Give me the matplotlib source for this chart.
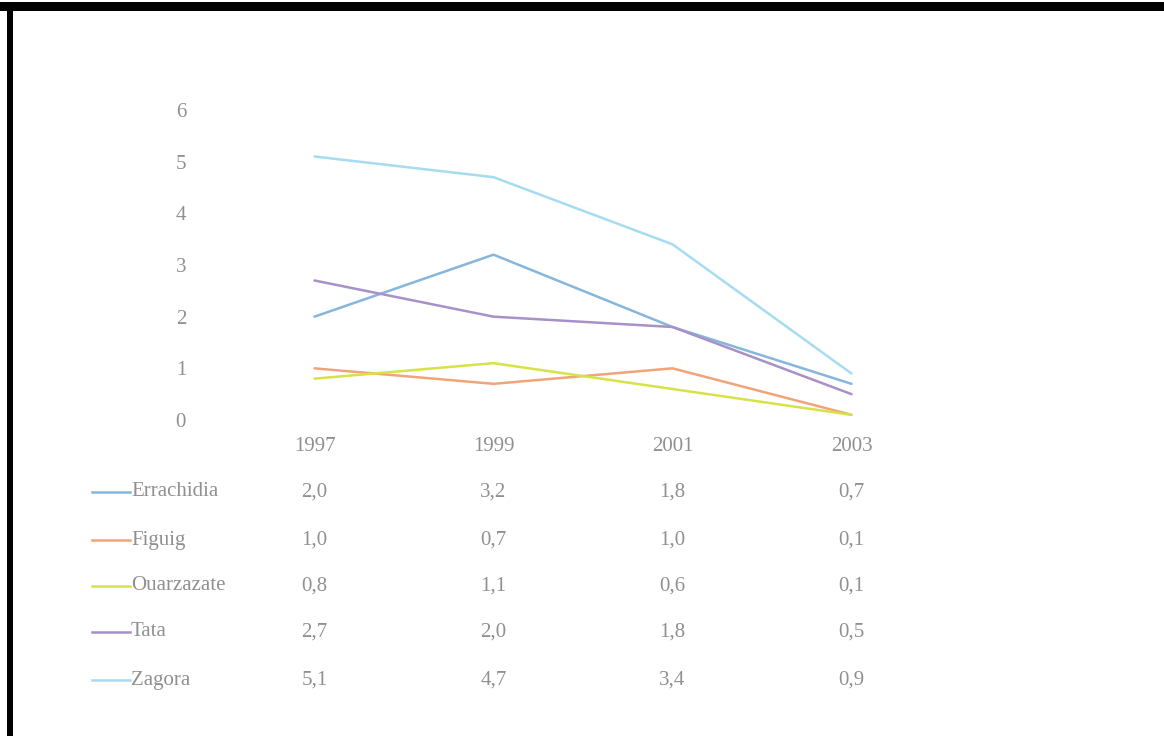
import matplotlib
matplotlib.use("Agg")
import matplotlib.pyplot as plt
from matplotlib.lines import Line2D
from matplotlib.transforms import blended_transform_factory

years = ["1997", "1999", "2001", "2003"]
regions = ["Errachidia", "Figuig", "Ouarzazate", "Tata", "Zagora"]
errachidia = [2.0, 3.2, 1.8, 0.7]
figuig = [1.0, 0.7, 1.0, 0.1]
ouarzazate = [0.8, 1.1, 0.6, 0.1]
tata = [2.7, 2.0, 1.8, 0.5]
zagora = [5.1, 4.7, 3.4, 0.9]
series = [errachidia, figuig, ouarzazate, tata, zagora]
colors = ["#86b6dc", "#f0a478", "#d6e247", "#a890c8", "#a6dcf0"]

W, H = 1164, 736
fig = plt.figure(figsize=(W / 100, H / 100), dpi=100)
fig.patch.set_facecolor("white")

ax = fig.add_axes([225 / W, (H - 420) / H, 716 / W, 310 / H])
x = list(range(len(years)))
for vals, c in zip(series, colors):
    ax.plot(x, vals, color=c, lw=1.8, solid_capstyle="round")

ax.set_xlim(-0.5, 3.5)
ax.set_ylim(0, 6)
ax.set_yticks(range(0, 7))
ax.set_xticks(x)
ax.set_xticklabels(years)
for s in ax.spines.values():
    s.set_visible(False)
ax.tick_params(length=0, colors="#909090", labelsize=15)
ax.tick_params(axis="y", pad=28)
ax.tick_params(axis="x", pad=12)
for lab in ax.get_xticklabels() + ax.get_yticklabels():
    lab.set_family("Liberation Serif")

# data table below
trans = blended_transform_factory(ax.transData, fig.transFigure)
row_y = [492, 540, 586, 632, 680]
for name, vals, c, py in zip(regions, series, colors, row_y):
    yf = (H - py) / H
    fig.add_artist(Line2D([92 / W, 130 / W], [yf, yf], color=c, lw=1.8,
                          transform=fig.transFigure))
    fig.text(131 / W, yf, name, ha="left", va="center", fontsize=15,
             color="#909090", family="Liberation Serif")
    for xi, v in zip(x, vals):
        ax.text(xi, yf, f"{v:.1f}".replace(".", ","), transform=trans,
                ha="center", va="center", fontsize=15, color="#909090",
                family="Liberation Serif")

# scan border (top and left)
fig.add_artist(plt.Rectangle((0, (H - 11) / H), 1, 9 / H, color="black",
                             transform=fig.transFigure, lw=0))
fig.add_artist(plt.Rectangle((7 / W, 0), 6 / W, (H - 2) / H, color="black",
                             transform=fig.transFigure, lw=0))

fig.savefig("out.png", dpi=100, facecolor="white")
